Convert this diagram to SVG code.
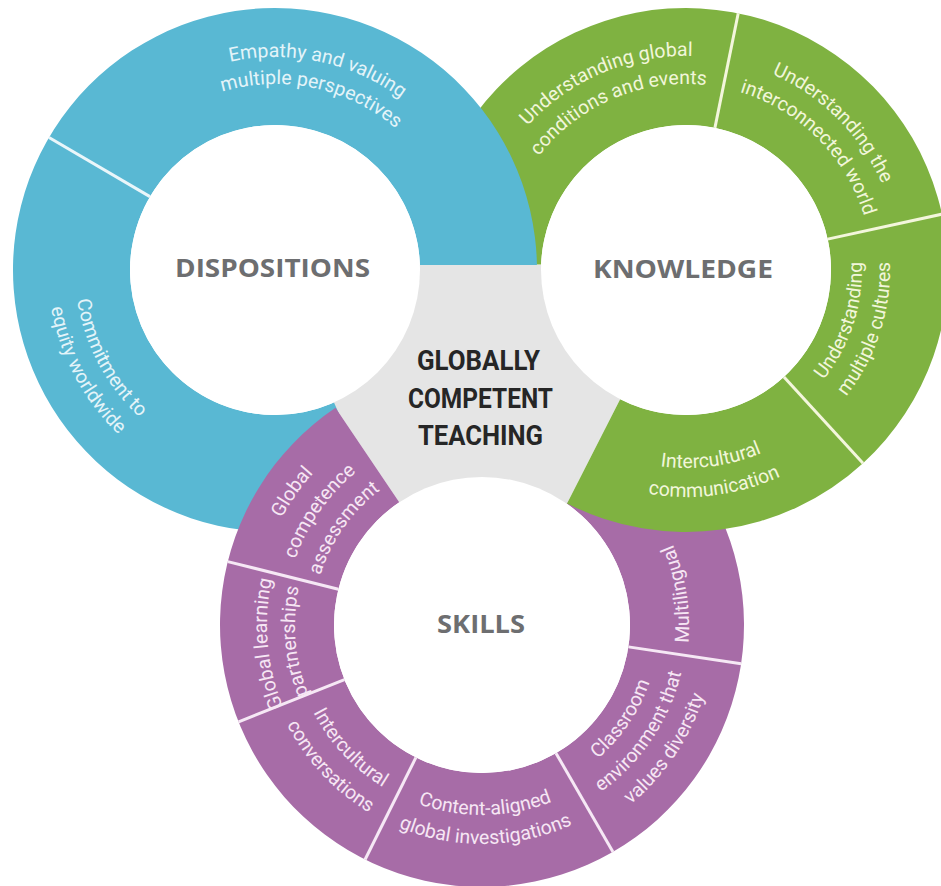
<svg xmlns="http://www.w3.org/2000/svg" width="941" height="886" viewBox="0 0 941 886">
<defs>
<style>
.lbl{font-family:Roboto,"Liberation Sans",sans-serif;font-size:19.5px;text-anchor:middle}
.lb{fill:#e4f4f9}.lg{fill:#f1f6da}.lp{fill:#f6e6f4}
.title{font-family:"Open Sans","Liberation Sans",sans-serif;font-weight:700;font-size:25px;fill:#6d6e70;text-anchor:middle}
.core{font-family:Roboto,"Liberation Sans",sans-serif;font-weight:700;font-size:28px;fill:#262626;text-anchor:middle}
.div{stroke-width:3;fill:none}
.hole{fill:#ffffff}
</style>
<path id="t1a" d="M 94.37 157.13 A 213 213 0 0 1 485.93 240.36"/>
<path id="t1b" d="M 117.26 171.43 A 186 186 0 0 1 459.19 244.11"/>
<path id="t2a" d="M 126.37 136.17 A 200 200 0 0 0 302.83 468.05"/>
<path id="t2b" d="M 106.31 118.11 A 227 227 0 0 0 306.59 494.79"/>
<path id="t3a" d="M 472.29 281.2 A 214 214 0 0 1 842.51 124.05"/>
<path id="t3b" d="M 500.25 279.74 A 186 186 0 0 1 822.03 143.15"/>
<path id="t4a" d="M 595.56 76.05 A 214 214 0 0 1 879.95 360.44"/>
<path id="t4b" d="M 607.39 101.43 A 186 186 0 0 1 854.57 348.61"/>
<path id="t5a" d="M 692.14 445.89 A 176 176 0 0 0 794.36 131.31"/>
<path id="t5b" d="M 693.12 473.88 A 204 204 0 0 0 811.59 109.25"/>
<path id="t6a" d="M 510.37 361.43 A 198 198 0 0 0 879.31 312.86"/>
<path id="t6b" d="M 484.65 374.82 A 227 227 0 0 0 907.62 319.13"/>
<path id="t7a" d="M 296.05 755.2 A 227 227 0 0 1 540.75 405.73"/>
<path id="t7b" d="M 319.81 738.57 A 198 198 0 0 1 533.25 433.75"/>
<path id="t7c" d="M 343.56 721.94 A 169 169 0 0 1 525.74 461.76"/>
<path id="t8a" d="M 426.35 832.67 A 215 215 0 0 1 391.14 430.14"/>
<path id="t8b" d="M 433.6 805.63 A 187 187 0 0 1 402.97 455.52"/>
<path id="t9a" d="M 312.71 538.74 A 190 190 0 0 0 556.24 799.9"/>
<path id="t9b" d="M 286.87 525.58 A 219 219 0 0 0 567.57 826.59"/>
<path id="t10a" d="M 304.62 693.09 A 190 190 0 0 0 661.65 686.86"/>
<path id="t10b" d="M 277.55 703.48 A 219 219 0 0 0 689.07 696.3"/>
<path id="t11a" d="M 439.18 796.74 A 177 177 0 0 0 625.2 520.96"/>
<path id="t11b" d="M 432.41 823.91 A 205 205 0 0 0 647.85 504.5"/>
<path id="t11c" d="M 425.63 851.08 A 233 233 0 0 0 670.5 488.04"/>
<path id="t12" d="M 582.36 806.05 A 207 207 0 0 0 521.5 421.8"/>
</defs>
<rect width="941" height="886" fill="#ffffff"/>

<g id="core-area">
<polygon points="239.17,265 688.56,265 495.16,644.5" fill="#e5e5e5"/>
</g>

<g id="knowledge-back">
<path d="M 424.06 264.5 A 262 262 0 1 1 863 463.17 L 783.96 376.91 A 145 145 0 1 0 541.1 264.5 Z" fill="#7fb241"/>
</g>

<g id="dispositions">
<path d="M 381.56 509.35 A 262 262 0 1 1 536.95 265 L 419.91 265 A 145 145 0 1 0 333.98 402.46 Z" fill="#59b8d3"/>
<line class="div" x1="149.94" y1="196.63" x2="49.02" y2="137.42" stroke="#eaf6fa"/>
</g>

<g id="skills">
<path d="M 632.28 410.38 A 262 262 0 1 1 335.49 407.79 L 399.24 502.3 A 148 148 0 1 0 566.89 503.77 Z" fill="#a76ca7"/>
<g stroke="#f6e8f5" class="div">
<line x1="338.4" y1="589.2" x2="227.78" y2="561.62"/>
<line x1="344.49" y1="679.72" x2="238.57" y2="721.87"/>
<line x1="415.96" y1="757.45" x2="365.1" y2="859.47"/>
<line x1="556" y1="753.17" x2="613" y2="851.9"/>
<line x1="628.38" y1="646.88" x2="741.12" y2="663.73"/>
</g>
</g>

<g id="knowledge">
<path d="M 863 463.17 A 262 262 0 0 1 567.05 503.44 L 620.17 399.2 A 145 145 0 0 0 783.96 376.91 Z" fill="#7fb241"/>
<g stroke="#f3f6dc" class="div">
<line x1="714.91" y1="127.91" x2="738.23" y2="13.26"/>
<line x1="827.67" y1="239.11" x2="941.99" y2="214.19"/>
<line x1="783.96" y1="376.91" x2="863" y2="463.17"/>
</g>
</g>

<g id="holes">
<circle class="hole" cx="275" cy="270" r="145"/>
<circle class="hole" cx="686" cy="270" r="145"/>
<circle class="hole" cx="482" cy="625" r="148"/>
</g>

<g id="dispositions-labels">
<text class="lbl lb"><textPath href="#t1a" startOffset="50%">Empathy and valuing</textPath></text>
<text class="lbl lb"><textPath href="#t1b" startOffset="50%">multiple perspectives</textPath></text>
<text class="lbl lb"><textPath href="#t2a" startOffset="50%">Commitment to</textPath></text>
<text class="lbl lb"><textPath href="#t2b" startOffset="50%">equity worldwide</textPath></text>
<text class="title" x="272.5" y="277" textLength="195" lengthAdjust="spacingAndGlyphs">DISPOSITIONS</text>
</g>

<g id="knowledge-labels">
<text class="lbl lg"><textPath href="#t3a" startOffset="50%">Understanding global</textPath></text>
<text class="lbl lg"><textPath href="#t3b" startOffset="50%">conditions and events</textPath></text>
<text class="lbl lg"><textPath href="#t4a" startOffset="50%">Understanding the</textPath></text>
<text class="lbl lg"><textPath href="#t4b" startOffset="50%">interconnected world</textPath></text>
<text class="lbl lg"><textPath href="#t5a" startOffset="50%">Understanding</textPath></text>
<text class="lbl lg"><textPath href="#t5b" startOffset="50%">multiple cultures</textPath></text>
<text class="lbl lg"><textPath href="#t6a" startOffset="50%">Intercultural</textPath></text>
<text class="lbl lg"><textPath href="#t6b" startOffset="50%">communication</textPath></text>
<text class="title" x="683" y="278" textLength="180" lengthAdjust="spacingAndGlyphs">KNOWLEDGE</text>
</g>

<g id="skills-labels">
<text class="lbl lp"><textPath href="#t7a" startOffset="50%">Global</textPath></text>
<text class="lbl lp"><textPath href="#t7b" startOffset="50%">competence</textPath></text>
<text class="lbl lp"><textPath href="#t7c" startOffset="50%">assessment</textPath></text>
<text class="lbl lp"><textPath href="#t8a" startOffset="50%">Global learning</textPath></text>
<text class="lbl lp"><textPath href="#t8b" startOffset="50%">partnerships</textPath></text>
<text class="lbl lp"><textPath href="#t9a" startOffset="50%">Intercultural</textPath></text>
<text class="lbl lp"><textPath href="#t9b" startOffset="50%">conversations</textPath></text>
<text class="lbl lp"><textPath href="#t10a" startOffset="50%">Content-aligned</textPath></text>
<text class="lbl lp"><textPath href="#t10b" startOffset="50%">global investigations</textPath></text>
<text class="lbl lp"><textPath href="#t11a" startOffset="50%">Classroom</textPath></text>
<text class="lbl lp"><textPath href="#t11b" startOffset="50%">environment that</textPath></text>
<text class="lbl lp"><textPath href="#t11c" startOffset="50%">values diversity</textPath></text>
<text class="lbl lp"><textPath href="#t12" startOffset="50%">Multilingual</textPath></text>
<text class="title" x="481" y="633" textLength="88" lengthAdjust="spacingAndGlyphs">SKILLS</text>
</g>

<g id="globally-competent-teaching">
<text class="core" x="478.5" y="370" textLength="123" lengthAdjust="spacingAndGlyphs">GLOBALLY</text>
<text class="core" x="480.5" y="408" textLength="145" lengthAdjust="spacingAndGlyphs">COMPETENT</text>
<text class="core" x="480.5" y="445" textLength="125" lengthAdjust="spacingAndGlyphs">TEACHING</text>
</g>
</svg>
